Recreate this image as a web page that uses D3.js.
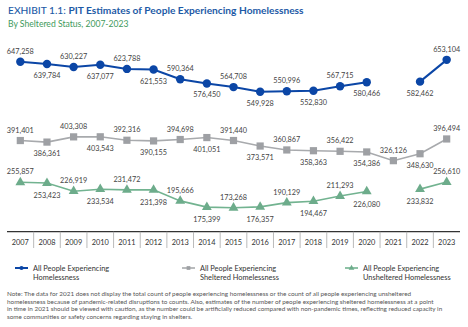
<!DOCTYPE html>
<html>
<head>
<meta charset="utf-8">
<script src="https://cdn.jsdelivr.net/npm/d3@7"></script>
<style>
  body { margin: 0; background: #fff; }
  svg { display: block; font-family: Lato, "Open Sans", sans-serif; }
</style>
</head>
<body>
<svg id="chart" width="468" height="327"></svg>
<script>
const years = [2007, 2008, 2009, 2010, 2011, 2012, 2013, 2014, 2015, 2016, 2017, 2018, 2019, 2020, 2021, 2022, 2023];
const allPeople = [647258, 639784, 630227, 637077, 623788, 621553, 590364, 576450, 564708, 549928, 550996, 552830, 567715, 580466, null, 582462, 653104];
const sheltered = [391401, 386361, 403308, 403543, 392316, 390155, 394698, 401051, 391440, 373571, 360867, 358363, 356422, 354386, 326126, 348630, 396494];
const unsheltered = [255857, 253423, 226919, 233534, 231472, 231398, 195666, 175399, 173268, 176357, 190129, 194467, 211293, 226080, null, 233832, 256610];
const seriesNames = [
  ["All People Experiencing", "Homelessness"],
  ["All People Experiencing", "Sheltered Homelessness"],
  ["All People Experiencing", "Unsheltered Homelessness"]
];
const noteLines = [
  "Note: The data for 2021 does not display the total count of people experiencing homelessness or the count of all people experiencing unsheltered",
  "homelessness because of pandemic-related disruptions to counts. Also, estimates of the number of people experiencing sheltered homelessness at a point",
  "in time in 2021 should be viewed with caution, as the number could be artificially reduced compared with non-pandemic times, reflecting reduced capacity in",
  "some communities or safety concerns regarding staying in shelters."
];

const svg = d3.select('#chart');
const fmt = d3.format(',');

const x = d3.scaleBand().domain(years).range([7, 460]);
const y = d3.scaleLinear().domain([0, 700000]).range([261.2, 45.4]);
const cx = d => x(d) + x.bandwidth() / 2;

// title
const title = svg.append('text').attr('x', 8).attr('y', 14)
  .attr('font-size', 10.2).attr('fill', '#1d5aa6');
title.append('tspan').attr('font-weight', 500).text('EXHIBIT 1.1: ');
title.append('tspan').attr('font-weight', 700).text('PIT Estimates of People Experiencing Homelessness');
svg.append('text').attr('x', 8).attr('y', 27)
  .attr('font-size', 8.6).attr('fill', '#3f9a5c')
  .text('By Sheltered Status, 2007-2023');

// x axis: baseline + year cells
const axisY = 231.7;
svg.append('line').attr('x1', 7).attr('x2', 460)
  .attr('y1', axisY).attr('y2', axisY)
  .attr('stroke', '#333').attr('stroke-width', 1.3);
svg.append('g').selectAll('line').data(years.slice(1)).join('line')
  .attr('x1', d => x(d)).attr('x2', d => x(d))
  .attr('y1', axisY).attr('y2', 248)
  .attr('stroke', '#aaa').attr('stroke-width', 0.8);
svg.append('g').selectAll('text').data(years).join('text')
  .attr('x', d => cx(d)).attr('y', 245)
  .attr('text-anchor', 'middle').attr('font-size', 7.4).attr('fill', '#333')
  .text(d => d);

const series = [
  { values: allPeople, line: '#0b46a6', fill: '#0b46a6', width: 2, shape: 'circle', above: 8, below: 14 },
  { values: sheltered, line: '#a8aaad', fill: '#9ea0a4', width: 1.6, shape: 'square', above: 8, below: 14 },
  { values: unsheltered, line: '#72b390', fill: '#6dac8b', width: 1.6, shape: 'triangle', above: 8, below: 15 }
];

const symbols = {
  circle: d3.symbol(d3.symbolCircle, 56),
  square: d3.symbol(d3.symbolSquare, 52),
  triangle: d3.symbol(d3.symbolTriangle, 42)
};

series.forEach(s => {
  const pts = years.map((yr, i) => ({ yr, v: s.values[i], i }));
  const line = d3.line()
    .defined(d => d.v != null)
    .x(d => cx(d.yr)).y(d => y(d.v));
  svg.append('path').datum(pts)
    .attr('d', line).attr('fill', 'none')
    .attr('stroke', s.line).attr('stroke-width', s.width);

  const valid = pts.filter(d => d.v != null);
  svg.append('g').selectAll('path').data(valid).join('path')
    .attr('transform', d => `translate(${cx(d.yr)},${y(d.v)})`)
    .attr('d', symbols[s.shape]).attr('fill', s.fill);

  // value labels alternate above / below the markers
  svg.append('g').selectAll('text').data(valid).join('text')
    .attr('x', d => cx(d.yr))
    .attr('y', d => y(d.v) + (d.i % 2 === 0 ? -s.above : s.below))
    .attr('text-anchor', 'middle').attr('font-size', 7.3).attr('fill', '#444')
    .text(d => fmt(d.v));
});

// legend
const legendX = [15, 182, 345];
const legend = svg.append('g').selectAll('g').data(series).join('g')
  .attr('transform', (d, i) => `translate(${legendX[i]},268)`);
legend.append('line').attr('x1', 0).attr('x2', 13)
  .attr('stroke', d => d.line).attr('stroke-width', d => d.width);
legend.append('path')
  .attr('transform', 'translate(6.5,0)')
  .attr('d', d => d3.symbol(
    d.shape === 'circle' ? d3.symbolCircle : d.shape === 'square' ? d3.symbolSquare : d3.symbolTriangle,
    14)())
  .attr('fill', d => d.fill);
legend.each(function(d, i) {
  const t = d3.select(this).append('text').attr('x', 18).attr('y', 2.5)
    .attr('font-size', 7.4).attr('fill', '#333');
  seriesNames[i].forEach((ln, k) => {
    t.append('tspan').attr('x', 18).attr('dy', k === 0 ? 0 : 9.2).text(ln);
  });
});

// footnote
svg.append('g').selectAll('text').data(noteLines).join('text')
  .attr('x', 7).attr('y', (d, i) => 296 + i * 7.5)
  .attr('font-size', 6.35).attr('fill', '#555')
  .text(d => d);
</script>
</body>
</html>
